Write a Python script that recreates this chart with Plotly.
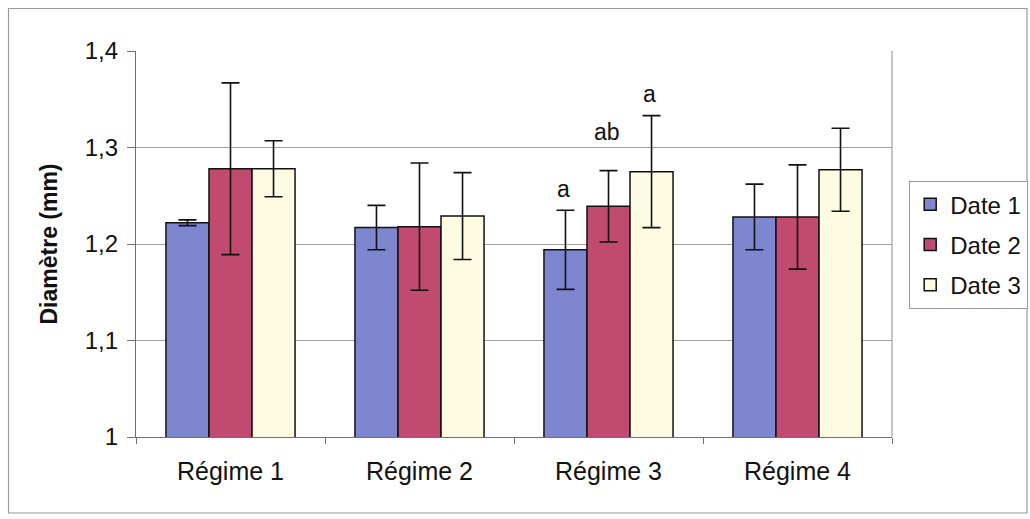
import plotly.graph_objects as go

categories = ["Régime 1", "Régime 2", "Régime 3", "Régime 4"]
series_names = ["Date 1", "Date 2", "Date 3"]
date1 = [1.222, 1.217, 1.194, 1.228]
date2 = [1.278, 1.218, 1.239, 1.228]
date3 = [1.278, 1.229, 1.275, 1.277]
err1 = [0.003, 0.023, 0.041, 0.034]
err2 = [0.089, 0.066, 0.037, 0.054]
err3 = [0.029, 0.045, 0.058, 0.043]
letters1 = ["", "", "a", ""]
letters2 = ["", "", "ab", ""]
letters3 = ["", "", "a", ""]
letters1_y = [None, None, 1.2575, None]
letters2_y = [None, None, 1.3163, None]
letters3_y = [None, None, 1.3557, None]

colors = ["#7f86d0", "#c04a70", "#fdfce2"]
values = [date1, date2, date3]
errors = [err1, err2, err3]
letters = [letters1, letters2, letters3]
letters_y = [letters1_y, letters2_y, letters3_y]

W, H = 1030, 519
ML, MR, MT, MB = 136, 138, 51, 82
BARGAP = 0.317
FONT = "Liberation Sans, Arial, sans-serif"

fig = go.Figure()
for i, name in enumerate(series_names):
    fig.add_trace(go.Bar(
        x=categories, y=values[i], name=name,
        marker=dict(color=colors[i], line=dict(color="#111111", width=1.5)),
        error_y=dict(type="data", array=errors[i], visible=True,
                     color="#111111", thickness=1.6, width=9),
        legendgroup=name,
    ))

pw = W - ML - MR
ph = H - MT - MB
cat_w = pw / len(categories)
bar_w = cat_w * (1 - BARGAP) / len(series_names)
for i in range(len(series_names)):
    for j, cat in enumerate(categories):
        if letters[i][j]:
            fig.add_annotation(
                x=cat, y=letters_y[i][j], text=letters[i][j],
                showarrow=False, yanchor="middle",
                xshift=(i - 1) * bar_w - 2,
                font=dict(family=FONT, size=23, color="#111111"),
            )

px = lambda v: (v - ML) / pw
py = lambda v: (H - MB - v) / ph
fig.add_shape(type="rect", xref="paper", yref="paper",
              x0=px(8.5), x1=px(1027), y0=py(513), y1=py(8.5),
              line=dict(color="#9a9a9a", width=1.2), layer="below")
fig.add_shape(type="line", xref="paper", yref="paper",
              x0=1, x1=1, y0=0, y1=1,
              line=dict(color="#a0a0a0", width=1.2), layer="below")

fig.update_layout(
    width=W, height=H,
    margin=dict(l=ML, r=MR, t=MT, b=MB, autoexpand=False),
    paper_bgcolor="white", plot_bgcolor="white",
    barmode="group", bargap=BARGAP, bargroupgap=0,
    separators=", ",
    font=dict(family=FONT, size=22, color="#111111"),
    showlegend=True,
    legend=dict(
        x=px(909), y=py(181), xanchor="left", yanchor="top",
        bordercolor="#9a9a9a", borderwidth=1.2, bgcolor="white",
        font=dict(family=FONT, size=24, color="#111111"),
        traceorder="grouped", tracegroupgap=6,
        itemwidth=30,
    ),
    yaxis=dict(
        range=[1, 1.4], dtick=0.1, tick0=1,
        showgrid=True, gridcolor="#a0a0a0", gridwidth=1.2,
        showline=True, linecolor="#707070", linewidth=1.2,
        ticks="outside", ticklen=8, tickcolor="#707070",
        ticklabelstandoff=4,
        tickfont=dict(family=FONT, size=24, color="#111111"),
        title=dict(text="Diamètre (mm)", standoff=20,
                   font=dict(family=FONT, size=23, color="#111111", weight="bold")),
        zeroline=False,
    ),
    xaxis=dict(
        showline=True, linecolor="#707070", linewidth=1.2,
        ticks="outside", ticklen=6, tickcolor="#707070", tickson="boundaries",
        ticklabelstandoff=12,
        tickfont=dict(family=FONT, size=25, color="#111111"),
        showgrid=False,
    ),
)

fig.write_html("out.html", config={"displayModeBar": False},
               post_script="document.body.style.margin='0';document.body.style.overflow='hidden';")
